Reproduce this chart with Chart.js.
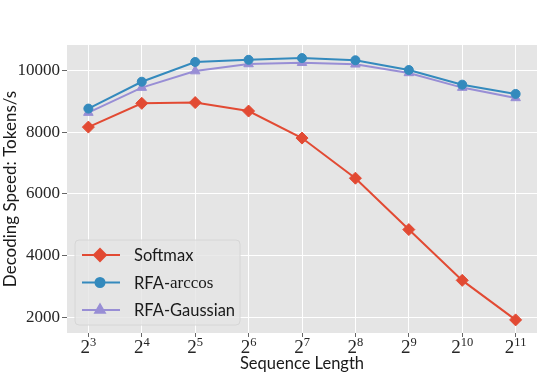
<!DOCTYPE html>
<html>
<head>
<meta charset="utf-8">
<script src="https://cdn.jsdelivr.net/npm/chart.js@4"></script>
<style>
html, body { margin: 0; padding: 0; background: #fff; }
#wrap { width: 548px; height: 376px; }
</style>
</head>
<body>
<div id="wrap"><canvas id="speedChart" width="548" height="376"></canvas></div>
<script>
// sequence length = 2^exponent
const exponents = [3, 4, 5, 6, 7, 8, 9, 10, 11];
const tickBase = '2';
const yTicks = [2000, 4000, 6000, 8000, 10000];

// decoding speed, tokens/s
const softmax = [8160, 8930, 8955, 8680, 7805, 6505, 4840, 3195, 1915];
const rfaArccos = [8760, 9630, 10270, 10340, 10395, 10325, 10010, 9535, 9235];
const rfaGaussian = [8630, 9440, 9975, 10205, 10245, 10195, 9915, 9440, 9105];

const SANS = "Lato, 'Open Sans', sans-serif";
const SERIF = "'Liberation Serif', 'DejaVu Serif', serif";

function toPoints(vals) {
    return exponents.map((e, i) => ({ x: e, y: vals[i] }));
}

// grey panel behind the plot
const panelBg = {
    id: 'panelBg',
    beforeDraw(chart) {
        const a = chart.chartArea, c = chart.ctx;
        c.save();
        c.fillStyle = '#E5E5E5';
        c.fillRect(a.left, a.top, a.right - a.left, a.bottom - a.top);
        c.restore();
    }
};

// x tick labels as 2 with a raised exponent
const powerTicks = {
    id: 'powerTicks',
    afterDraw(chart) {
        const sx = chart.scales.x, c = chart.ctx;
        const base = chart.chartArea.bottom + 19.5;
        c.save();
        c.fillStyle = '#262626';
        c.textBaseline = 'alphabetic';
        c.textAlign = 'left';
        exponents.forEach(e => {
            const px = sx.getPixelForValue(e);
            c.font = '19px ' + SERIF;
            const wb = c.measureText(tickBase).width;
            c.font = '12.5px ' + SERIF;
            const we = c.measureText(String(e)).width;
            const x0 = px - (wb + we) / 2;
            c.font = '19px ' + SERIF;
            c.fillText(tickBase, x0, base);
            c.font = '12.5px ' + SERIF;
            c.fillText(String(e), x0 + wb, base - 6.5);
        });
        c.restore();
    }
};

// legend drawn inside the lower left of the plot
const innerLegend = {
    id: 'innerLegend',
    afterDatasetsDraw(chart) {
        const a = chart.chartArea, c = chart.ctx;
        const x0 = a.left + 8, y1 = a.bottom - 8;
        const w = 165, h = 85, y0 = y1 - h;
        c.save();
        c.beginPath();
        c.roundRect(x0, y0, w, h, 4);
        c.fillStyle = 'rgba(229,229,229,0.8)';
        c.fill();
        c.strokeStyle = '#D6D6D6';
        c.lineWidth = 1;
        c.stroke();
        chart.data.datasets.forEach((ds, i) => {
            const cy = y0 + 15 + i * 27.5;
            c.strokeStyle = ds.borderColor;
            c.lineWidth = 2;
            c.beginPath();
            c.moveTo(x0 + 7, cy);
            c.lineTo(x0 + 45, cy);
            c.stroke();
            c.fillStyle = ds.backgroundColor;
            Chart.helpers.drawPoint(c, {
                pointStyle: ds.pointStyle,
                radius: ds.pointRadius,
                rotation: 0,
                borderWidth: 1
            }, x0 + 25, cy);
            c.fillStyle = '#1a1a1a';
            c.textBaseline = 'middle';
            c.textAlign = 'left';
            let tx = x0 + 59;
            ds.legendParts.forEach(p => {
                c.font = p.serif ? '17px ' + SERIF : '16.5px ' + SANS;
                c.fillText(p.t, tx, cy + 1);
                tx += c.measureText(p.t).width;
            });
        });
        c.restore();
    }
};

const ctx = document.getElementById('speedChart').getContext('2d');
const speedChart = new Chart(ctx, {
    type: 'line',
    data: {
        datasets: [{
            label: 'Softmax',
            legendParts: [{ t: 'Softmax' }],
            data: toPoints(softmax),
            borderColor: '#E24A33',
            backgroundColor: '#E24A33',
            pointStyle: 'rectRot',
            pointRadius: 6,
            pointHoverRadius: 6
        }, {
            label: 'RFA-arccos',
            legendParts: [{ t: 'RFA-' }, { t: 'arccos', serif: true }],
            data: toPoints(rfaArccos),
            borderColor: '#348ABD',
            backgroundColor: '#348ABD',
            pointStyle: 'circle',
            pointRadius: 4.5,
            pointHoverRadius: 4.5
        }, {
            label: 'RFA-Gaussian',
            legendParts: [{ t: 'RFA-Gaussian' }],
            data: toPoints(rfaGaussian),
            borderColor: '#988ED5',
            backgroundColor: '#988ED5',
            pointStyle: 'triangle',
            pointRadius: 5.5,
            pointHoverRadius: 5.5
        }].map(d => Object.assign(d, { borderWidth: 2, tension: 0, pointBorderWidth: 1, fill: false }))
    },
    options: {
        responsive: false,
        animation: false,
        layout: { padding: { top: 45, right: 11, left: 0, bottom: 0 } },
        plugins: {
            legend: { display: false },
            tooltip: { enabled: false }
        },
        scales: {
            x: {
                type: 'linear',
                min: 2.6,
                max: 11.4,
                afterBuildTicks(scale) { scale.ticks = exponents.map(v => ({ value: v })); },
                afterFit(scale) { scale.height = 43; },
                grid: { color: '#FFFFFF', lineWidth: 1, tickLength: 4, tickColor: '#666' },
                border: { display: false },
                ticks: {
                    autoSkip: false,
                    maxRotation: 0,
                    color: 'rgba(0,0,0,0)',
                    font: { family: SERIF, size: 12 },
                    callback: (v) => tickBase + '^' + v
                },
                title: {
                    display: true,
                    text: 'Sequence Length',
                    color: '#1a1a1a',
                    font: { family: SANS, size: 16.5 },
                    padding: { top: 0, bottom: 2 }
                }
            },
            y: {
                min: 1490,
                max: 10820,
                afterBuildTicks(scale) { scale.ticks = yTicks.map(v => ({ value: v })); },
                afterFit(scale) { scale.width = 67; },
                grid: { color: '#FFFFFF', lineWidth: 1, tickLength: 5, tickColor: '#666' },
                border: { display: false },
                ticks: {
                    padding: 2,
                    color: '#262626',
                    font: { family: SERIF, size: 17 },
                    callback: (v) => String(v)
                },
                title: {
                    display: true,
                    text: 'Decoding Speed: Tokens/s',
                    color: '#1a1a1a',
                    font: { family: SANS, size: 17 },
                    padding: { top: 0, bottom: 0 }
                }
            }
        }
    },
    plugins: [panelBg, powerTicks, innerLegend]
});
</script>
</body>
</html>
